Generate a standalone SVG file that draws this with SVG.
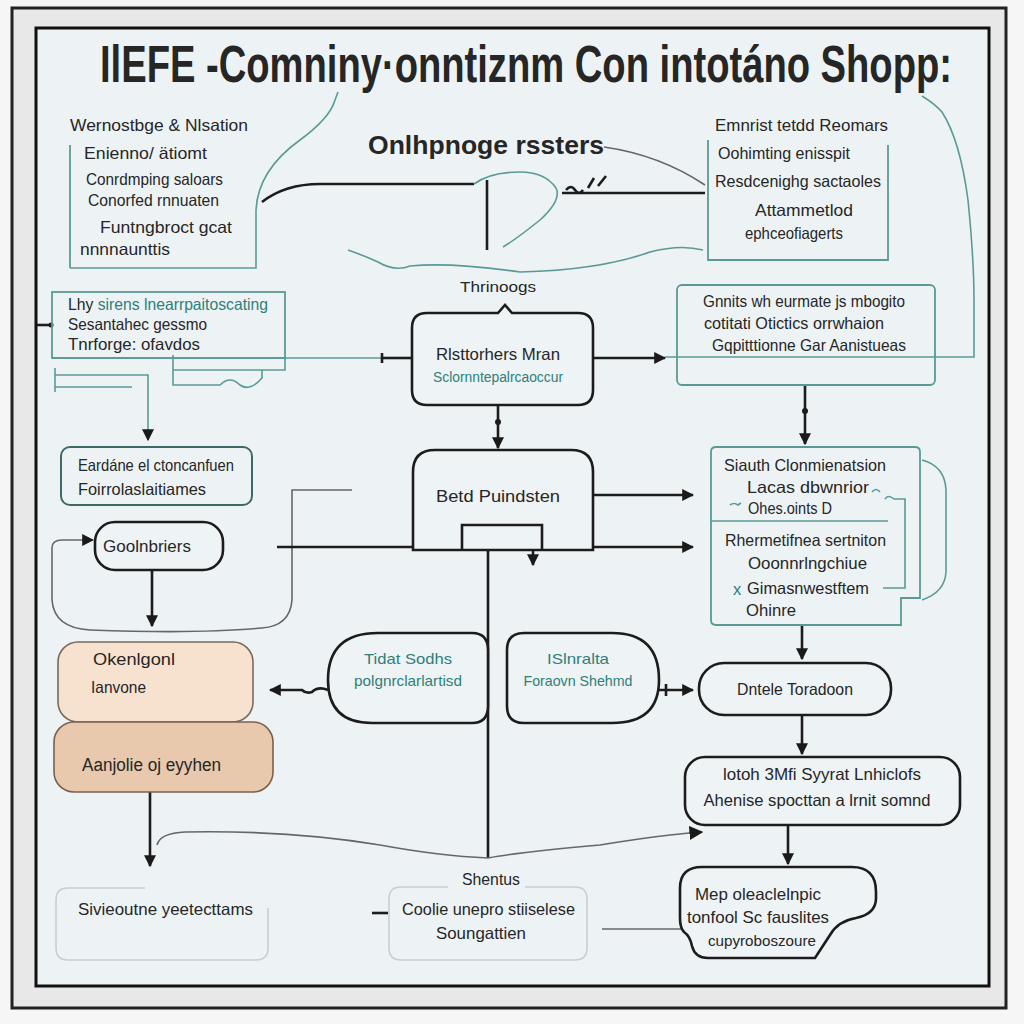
<svg xmlns="http://www.w3.org/2000/svg" width="1024" height="1024" viewBox="0 0 1024 1024">
<defs>
<marker id="ahs" viewBox="0 0 10 10" refX="9" refY="5" markerWidth="12" markerHeight="12" orient="auto" markerUnits="userSpaceOnUse">
<path d="M0,0 L10,5 L0,10 Z" fill="#1a1a1a"/>
</marker>
<marker id="aht" viewBox="0 0 10 10" refX="9" refY="5" markerWidth="14" markerHeight="14" orient="auto" markerUnits="userSpaceOnUse">
<path d="M0,0 L10,5 L0,10 Z" fill="#1a1a1a"/>
</marker>
</defs>
<style>
text{font-family:"Liberation Sans","DejaVu Sans",sans-serif;fill:#262626}
.b{font-size:16.5px}
.tl{fill:#2f7f7a}
.node{fill:#eef3f5;stroke:#1c1c1c;stroke-width:2.6}
.tbox{fill:none;stroke:#5a9a95;stroke-width:1.8}
.tline{fill:none;stroke:#5a9a95;stroke-width:1.6}
.gline{fill:none;stroke:#666;stroke-width:1.6}
.kline{fill:none;stroke:#1c1c1c;stroke-width:2.6}
.lbox{fill:none;stroke:#c9cfd1;stroke-width:1.6}
</style>
<rect x="0" y="0" width="1024" height="1024" fill="#f6f6f6"/>
<rect x="12" y="8" width="994" height="1000" fill="#e8e8e8" stroke="#222" stroke-width="3"/>
<rect x="36" y="28" width="953" height="958" fill="#edf3f5" stroke="#111" stroke-width="3"/>

<g id="title">
<text transform="translate(100,82) scale(1,1.37)" x="0" y="0" font-size="38" font-weight="bold" textLength="852" lengthAdjust="spacingAndGlyphs" fill="#111">IlEFE -Comniny·onntiznm Con intotáno Shopp:</text>
</g>

<g id="connectors">
<path class="tline" d="M70,268 H256 V210 Q258,170 300,140 Q330,118 335,100 L338,92"/>
<path class="kline" d="M262,202 Q285,184 320,184 H474" stroke-width="2.4"/>
<path class="tline" d="M474,184 Q490,172 520,172 Q545,172 556,188 Q562,200 540,220 Q515,240 503,247"/>
<path class="kline" d="M487,180 V250" stroke-width="1.6"/>
<path class="kline" d="M562,193 H705" stroke-width="2.4"/>
<path class="kline" d="M566,190 q5,-6 9,0 q4,6 8,0" stroke-width="1.6"/>
<path class="kline" d="M588,188 l6,-10 M598,186 l8,-10" stroke-width="1.2"/>
<path class="gline" d="M604,147 Q660,155 705,185"/>
<path class="tline" d="M348,250 Q365,256 378,262 Q395,272 410,266 Q450,262 520,272 Q600,270 650,252 Q680,244 703,250"/>
<path class="tline" d="M922,96 Q935,104 942,112 Q960,140 968,200 Q974,260 974,300 V357 H665"/>
<path class="kline" d="M37,325 H52" stroke-width="2"/>
<circle cx="51" cy="325" r="2.5" fill="#1c1c1c"/>
<path class="tline" d="M52,358 H382"/>
<path class="kline" d="M382,358 H412" stroke-width="2.6"/>
<path class="kline" d="M382,353 V363" stroke-width="2"/>
<path class="tline" d="M173,355 V385 H220 Q230,375 240,385 Q250,392 262,378 V370"/>
<path class="tline" d="M173,370 H285 V358"/>
<path class="tline" d="M55,368 V392"/>
<path class="tline" d="M55,375 H148 V440" marker-end="url(#ahs)"/>
<path class="tline" d="M55,387 H132" stroke-width="2.4"/>
<path class="gline" d="M352,490 H292 V600 Q290,626 262,628 Q200,634 90,630 Q54,628 52,600 V548 Q52,540 62,540 H93" marker-end="url(#ahs)"/>
<path class="kline" d="M152,570 V626" marker-end="url(#ahs)"/>
<path class="kline" d="M277,547 H413"/>
<path class="kline" d="M593,358 H665" marker-end="url(#ahs)"/>
<path class="kline" d="M498,405 V448" marker-end="url(#ahs)"/>
<circle cx="498" cy="422" r="3" fill="#1c1c1c"/>
<path class="kline" d="M593,495 H693" marker-end="url(#ahs)"/>
<path class="kline" d="M593,547 H693" marker-end="url(#ahs)"/>
<path class="kline" d="M533,550 V565" marker-end="url(#ahs)" stroke-width="2"/>
<path class="kline" d="M488,550 V858"/>
<path class="kline" d="M805,385 V444" marker-end="url(#ahs)"/>
<circle cx="805" cy="411" r="3" fill="#1c1c1c"/>
<path class="kline" d="M802,625 V659" marker-end="url(#ahs)" stroke-width="2"/>
<path class="kline" d="M802,715 V754" marker-end="url(#ahs)"/>
<circle cx="802" cy="711" r="3" fill="#1c1c1c"/>
<path class="kline" d="M788,825 V864" marker-end="url(#ahs)"/>
<path class="kline" d="M328,690 Q318,686 312,692 Q306,694 302,690 H270" marker-end="url(#ahs)" stroke-width="2.4"/>
<path class="kline" d="M659,690 H693" marker-end="url(#ahs)" stroke-width="2"/>
<path class="kline" d="M666,684 V696" stroke-width="1.6"/>
<path class="kline" d="M150,792 V866" marker-end="url(#ahs)"/>
<path class="gline" d="M157,845 Q160,833 185,832 Q290,830 380,845 Q440,856 488,858 Q520,852 600,845 Q660,835 702,832" marker-end="url(#aht)"/>
<path class="gline" d="M602,929 H682"/>
<path class="kline" d="M372,913 H388" stroke-width="2.4"/>
</g>

<g id="n-topleft">
<path class="tbox" d="M70,145 V268"/>
<text class="b" x="70" y="131" textLength="178" lengthAdjust="spacingAndGlyphs">Wernostbge &amp; Nlsation</text>
<text class="b" x="84" y="159" textLength="123" lengthAdjust="spacingAndGlyphs">Enienno/ ätiomt</text>
<text class="b" x="86" y="185" textLength="137" lengthAdjust="spacingAndGlyphs">Conrdmping saloars</text>
<text class="b" x="88" y="206" textLength="131" lengthAdjust="spacingAndGlyphs">Conorfed rnnuaten</text>
<text class="b" x="100" y="233" textLength="132" lengthAdjust="spacingAndGlyphs">Funtngbroct gcat</text>
<text class="b" x="80" y="255" textLength="90" lengthAdjust="spacingAndGlyphs">nnnnaunttis</text>
</g>

<g id="n-center-title">
<text x="368" y="154" font-size="26" font-weight="bold" textLength="236" lengthAdjust="spacingAndGlyphs" fill="#111">Onlhpnoge rssters</text>
</g>

<g id="n-topright">
<path class="tbox" d="M708,140 V260 H888 V145"/>
<text class="b" x="715" y="131" textLength="173" lengthAdjust="spacingAndGlyphs">Emnrist tetdd Reomars</text>
<text class="b" x="718" y="159" textLength="132" lengthAdjust="spacingAndGlyphs">Oohimting enisspit</text>
<text class="b" x="715" y="187" textLength="166" lengthAdjust="spacingAndGlyphs">Resdcenighg sactaoles</text>
<text class="b" x="755" y="216" textLength="98" lengthAdjust="spacingAndGlyphs">Attammetlod</text>
<text class="b" x="745" y="239" textLength="98" lengthAdjust="spacingAndGlyphs">ephceofiagerts</text>
</g>

<g id="n-left1">
<rect class="tbox" x="52" y="292" width="233" height="66"/>
<text class="b" x="68" y="310" textLength="200" lengthAdjust="spacingAndGlyphs">Lhy <tspan class="tl">sirens lnearrpaitoscating</tspan></text>
<text class="b" x="68" y="330" textLength="139" lengthAdjust="spacingAndGlyphs">Sesantahec gessmo</text>
<text class="b" x="68" y="350" textLength="132" lengthAdjust="spacingAndGlyphs">Tnrforge: ofavdos</text>
</g>

<g id="n-eardane">
<rect x="61" y="447" width="191" height="58" rx="9" fill="none" stroke="#3d6a67" stroke-width="2"/>
<text class="b" x="78" y="471" textLength="156" lengthAdjust="spacingAndGlyphs">Eardáne el ctoncanfuen</text>
<text class="b" x="78" y="495" textLength="128" lengthAdjust="spacingAndGlyphs">Foirrolaslaitiames</text>
</g>

<g id="n-gool">
<rect class="node" x="95" y="522" width="128" height="48" rx="20"/>
<text class="b" x="103" y="552" textLength="88" lengthAdjust="spacingAndGlyphs">Goolnbriers</text>
</g>

<g id="n-thrinoogs">
<text x="498" y="292" font-size="15" text-anchor="middle" textLength="76" lengthAdjust="spacingAndGlyphs" fill="#2a4a48">Thrinoogs</text>
</g>

<g id="n-main">
<path class="node" d="M427,313 H498 L505,305 L512,313 H578 Q593,313 593,328 V390 Q593,405 578,405 H427 Q412,405 412,390 V328 Q412,313 427,313 Z"/>
<text class="b" x="498" y="360" text-anchor="middle" textLength="124" lengthAdjust="spacingAndGlyphs">Rlsttorhers Mran</text>
<text x="498" y="382" font-size="14" text-anchor="middle" class="tl" textLength="130" lengthAdjust="spacingAndGlyphs">Sclornntepalrcaoccur</text>
</g>

<g id="n-betd">
<path class="node" d="M413,550 V472 Q413,450 435,450 H571 Q593,450 593,472 V550 Z"/>
<path class="kline" d="M462,550 V525 H542 V550" stroke-width="2.2"/>
<text class="b" x="498" y="502" text-anchor="middle" textLength="124" lengthAdjust="spacingAndGlyphs">Betd Puindsten</text>
</g>

<g id="n-gnnits">
<rect class="tbox" x="677" y="285" width="258" height="100" rx="5"/>
<text class="b" x="703" y="307" textLength="202" lengthAdjust="spacingAndGlyphs">Gnnits wh eurmate js mbogito</text>
<text class="b" x="704" y="329" textLength="180" lengthAdjust="spacingAndGlyphs">cotitati Otictics orrwhaion</text>
<text class="b" x="712" y="351" textLength="194" lengthAdjust="spacingAndGlyphs">Gqpitttionne  Gar Aanistueas</text>
</g>

<g id="n-siauth">
<path class="tbox" d="M716,447 H915 Q920,447 920,452 V598 H901 V625 H716 Q711,625 711,620 V452 Q711,447 716,447 Z"/>
<path class="tline" d="M711,521 H888"/>
<path class="tline" d="M922,460 Q945,466 946,490 V572 Q945,592 922,600"/>
<path class="tline" d="M885,499 Q888,494 894,499 H905 V588 H883"/>
<path class="tline" d="M872,492 q4,-5 8,0"/>
<path class="tline" d="M730,505 q4,-3 8,0 l3,-2"/>
<text class="b" x="724" y="471" textLength="162" lengthAdjust="spacingAndGlyphs">Siauth Clonmienatsion</text>
<text class="b" x="747" y="493" textLength="122" lengthAdjust="spacingAndGlyphs">Lacas dbwnrior</text>
<text class="b" x="748" y="514" textLength="84" lengthAdjust="spacingAndGlyphs">Ohes.oints D</text>
<text class="b" x="725" y="546" textLength="161" lengthAdjust="spacingAndGlyphs">Rhermetifnea sertniton</text>
<text class="b" x="748" y="569" textLength="119" lengthAdjust="spacingAndGlyphs">Ooonnrlngchiue</text>
<text class="b tl" x="733" y="595">x</text>
<text class="b" x="747" y="594" textLength="122" lengthAdjust="spacingAndGlyphs">Gimasnwestftem</text>
<text class="b" x="746" y="616" textLength="50" lengthAdjust="spacingAndGlyphs">Ohinre</text>
</g>

<g id="n-okenlgonl">
<rect x="58" y="642" width="195" height="80" rx="20" fill="#f6e2cf" stroke="#7a6a5c" stroke-width="1.6"/>
<text class="b" x="93" y="665" textLength="82" lengthAdjust="spacingAndGlyphs">Okenlgonl</text>
<text class="b" x="91" y="693" textLength="55" lengthAdjust="spacingAndGlyphs">Ianvone</text>
</g>

<g id="n-aanjolie">
<rect x="54" y="722" width="219" height="70" rx="20" fill="#e8c9ad" stroke="#7a6050" stroke-width="1.6"/>
<text x="82" y="771" font-size="18" textLength="139" lengthAdjust="spacingAndGlyphs">Aanjolie oj eyyhen</text>
</g>

<g id="n-tidat">
<path class="node" d="M378,633 H472 Q488,633 488,650 V706 Q488,723 472,723 H372 Q328,723 328,680 Q328,633 378,633 Z"/>
<text x="408" y="664" font-size="15" text-anchor="middle" class="tl" textLength="88" lengthAdjust="spacingAndGlyphs">Tidat Sodhs</text>
<text x="408" y="686" font-size="15" text-anchor="middle" class="tl" textLength="108" lengthAdjust="spacingAndGlyphs">polgnrclarlartisd</text>
</g>

<g id="n-islnralta">
<path class="node" d="M524,633 H612 Q659,633 659,680 Q659,723 612,723 H524 Q507,723 507,706 V650 Q507,633 524,633 Z"/>
<text x="578" y="664" font-size="15" text-anchor="middle" class="tl" textLength="62" lengthAdjust="spacingAndGlyphs">ISlnralta</text>
<text x="578" y="686" font-size="15" text-anchor="middle" class="tl" textLength="109" lengthAdjust="spacingAndGlyphs">Foraovn Shehmd</text>
</g>

<g id="n-dntele">
<rect class="node" x="699" y="663" width="192" height="52" rx="25"/>
<text class="b" x="795" y="695" text-anchor="middle" textLength="116" lengthAdjust="spacingAndGlyphs">Dntele Toradoon</text>
</g>

<g id="n-lotoh">
<rect class="node" x="685" y="757" width="275" height="68" rx="20"/>
<text class="b" x="822" y="780" text-anchor="middle" textLength="198" lengthAdjust="spacingAndGlyphs">lotoh 3Mfi Syyrat  Lnhiclofs</text>
<text class="b" x="817" y="806" text-anchor="middle" textLength="227" lengthAdjust="spacingAndGlyphs">Ahenise spocttan a  lrnit somnd</text>
</g>

<g id="n-mep">
<path class="node" d="M702,867 H852 Q876,867 876,892 V898 Q876,914 856,918 Q838,921 830,935 L815,958 H708 Q695,958 692,946 Q690,936 684,932 Q680,928 680,918 V888 Q680,867 702,867 Z"/>
<text class="b" x="695" y="900" textLength="126" lengthAdjust="spacingAndGlyphs">Mep oleaclelnpic</text>
<text class="b" x="687" y="923" textLength="142" lengthAdjust="spacingAndGlyphs">tonfool Sc fauslites</text>
<text x="708" y="946" font-size="15" textLength="108" lengthAdjust="spacingAndGlyphs">cupyroboszoure</text>
</g>

<g id="n-sivieoutne">
<path class="lbox" d="M145,888 H68 Q56,888 56,900 V948 Q56,960 68,960 H256 Q268,960 268,948 V908"/>
<text class="b" x="78" y="915" textLength="175" lengthAdjust="spacingAndGlyphs">Sivieoutne yeetecttams</text>
</g>

<g id="n-shentus">
<path class="lbox" d="M448,887 H401 Q389,887 389,899 V948 Q389,960 401,960 H575 Q587,960 587,948 V899 Q587,887 575,887 H525"/>
<text class="b" x="491" y="885" text-anchor="middle" textLength="58" lengthAdjust="spacingAndGlyphs">Shentus</text>
<text class="b" x="402" y="915" textLength="173" lengthAdjust="spacingAndGlyphs">Coolie unepro stiiselese</text>
<text class="b" x="436" y="939" textLength="90" lengthAdjust="spacingAndGlyphs">Soungattien</text>
</g>
</svg>
